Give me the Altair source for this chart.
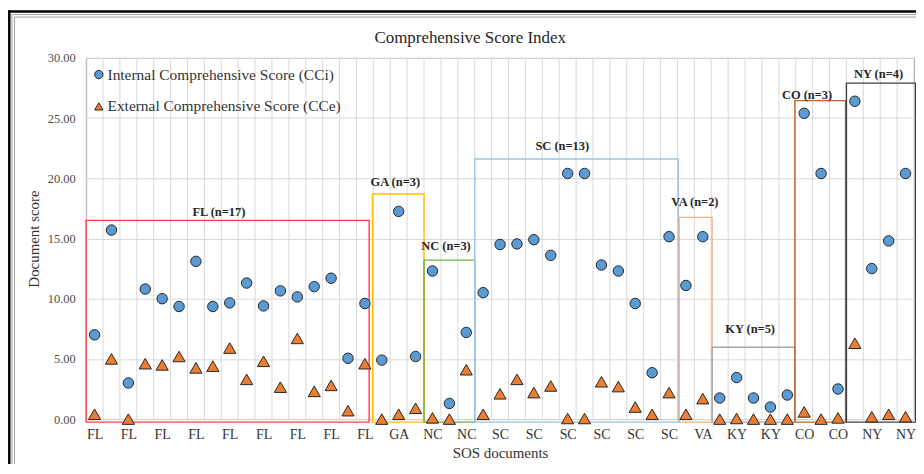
import altair as alt
import pandas as pd

# ---------------- data ----------------
states = (["FL"] * 17 + ["GA"] * 3 + ["NC"] * 3 + ["SC"] * 12 +
          ["VA"] * 2 + ["KY"] * 5 + ["CO"] * 3 + ["NY"] * 4)

cci = [7.0, 15.7, 3.0, 10.8, 10.0, 9.35, 13.1, 9.35, 9.65, 11.3, 9.4, 10.65, 10.15, 11.0, 11.7, 5.05, 9.6,
       4.9, 17.25, 5.2,
       12.3, 1.3, 7.2,
       10.5, 14.5, 14.55, 14.9, 13.6, 20.4, 20.4, 12.8, 12.3, 9.6, 3.85, 15.15,
       11.1, 15.15,
       1.75, 3.45, 1.75, 1.0, 2.0,
       25.4, 20.4, 2.5,
       26.4, 12.5, 14.8, 20.4]

cce = [0.4, 5.0, 0.0, 4.6, 4.5, 5.2, 4.25, 4.4, 5.9, 3.3, 4.8, 2.65, 6.7, 2.3, 2.8, 0.7, 4.6,
       0.0, 0.4, 0.9,
       0.1, 0.0, 4.1,
       0.4, 2.1, 3.3, 2.2, 2.75, 0.05, 0.05, 3.1, 2.7, 1.0, 0.4, 2.2,
       0.4, 1.7,
       0.0, 0.05, 0.0, 0.0, 0.0,
       0.6, 0.0, 0.1,
       6.3, 0.2, 0.4, 0.2]

series_names = ["Internal Comprehensive Score (CCi)", "External Comprehensive Score (CCe)"]

group_names = ["FL", "GA", "NC", "SC", "VA", "KY", "CO", "NY"]
group_labels = ["FL (n=17)", "GA (n=3)", "NC (n=3)", "SC (n=13)", "VA (n=2)", "KY (n=5)", "CO (n=3)", "NY (n=4)"]
box_left = [0.5, 17.45, 20.5, 23.5, 35.6, 37.55, 42.45, 45.5]
box_right = [17.25, 20.5, 23.5, 35.55, 37.55, 42.45, 45.45, 49.6]
box_top = [16.5, 18.7, 13.2, 21.6, 16.75, 5.97, 26.45, 27.9]
label_x = [8.36, 18.8, 21.8, 28.68, 36.53, 39.8, 43.17, 47.4]
label_y = [17.2, 19.7, 14.4, 22.7, 18.0, 7.45, 26.9, 28.65]

# ---------------- styles ----------------
series_colors = ["#5B9BD5", "#ED7D31"]
series_shapes = ["circle", "triangle-up"]
box_colors = ["#FF4040", "#FFC000", "#70AD47", "#9DC3E6", "#F4B183", "#A6A6A6", "#C0642A", "#404040"]
FONT = "Liberation Serif"
GRID = "#D9D9D9"

n = len(states)
idx = list(range(1, n + 1))

pts = pd.DataFrame({
    "idx": idx * 2,
    "series": [series_names[0]] * n + [series_names[1]] * n,
    "value": cci + cce,
})
boxes = pd.DataFrame({"group": group_names, "left": box_left, "right": box_right,
                      "top": box_top, "bottom": [-0.25] * len(group_names)})
labels = pd.DataFrame({"label": group_labels, "lx": label_x, "ly": label_y})
vgrid = pd.DataFrame({"b": [i + 0.5 for i in range(0, n + 1)]})

label_js = "[" + ",".join("'%s'" % s for s in states) + "][datum.value - 1]"

xscale = alt.Scale(domain=[0.5, n + 0.5], nice=False, zero=False)
yscale = alt.Scale(domain=[0, 30], nice=False, zero=False)

x_axis = alt.Axis(values=list(range(1, n + 1, 2)), labelExpr=label_js, grid=False, ticks=False,
                  domain=False, title="SOS documents", labelFont=FONT, labelFontSize=14,
                  labelColor="#333333", labelPadding=9, titleFont=FONT, titleFontSize=15,
                  titleFontWeight="normal", titleColor="#333333", titlePadding=4, labelAngle=0)
y_axis = alt.Axis(values=[0, 5, 10, 15, 20, 25, 30], format=".2f", grid=True, gridColor=GRID,
                  ticks=False, domain=False, title="Document score", labelFont=FONT,
                  labelFontSize=12.5, labelColor="#4D4D4D", labelPadding=11, titleFont=FONT,
                  titleFontSize=15, titleFontWeight="normal", titleColor="#333333", titlePadding=6)

grid_layer = alt.Chart(vgrid).mark_rule(color=GRID, strokeWidth=1).encode(
    x=alt.X("b:Q", scale=xscale, axis=x_axis)
)

box_layer = alt.Chart(boxes).mark_rect(fillOpacity=0, strokeWidth=1.4).encode(
    x=alt.X("left:Q", scale=xscale, axis=x_axis),
    x2="right:Q",
    y=alt.Y("top:Q", scale=yscale, axis=y_axis),
    y2="bottom:Q",
    stroke=alt.Stroke("group:N", scale=alt.Scale(domain=group_names, range=box_colors), legend=None),
)

fill_enc = alt.Fill("series:N", scale=alt.Scale(domain=series_names, range=series_colors),
                    legend=alt.Legend(title=None, orient="none", legendX=5, legendY=9, labelFont=FONT,
                                      labelFontSize=15.5, labelColor="#333333", symbolSize=70,
                                      symbolStrokeColor="#262626", symbolStrokeWidth=1,
                                      rowPadding=15, labelOffset=1, labelLimit=0))
shape_enc = alt.Shape("series:N", scale=alt.Scale(domain=series_names, range=series_shapes))

circle_layer = alt.Chart(pts).transform_filter(
    alt.datum.series == series_names[0]
).mark_point(filled=True, opacity=1, stroke="#262626", strokeWidth=1, size=110).encode(
    x=alt.X("idx:Q", scale=xscale, axis=x_axis),
    y=alt.Y("value:Q", scale=yscale, axis=y_axis),
    fill=fill_enc, shape=shape_enc,
)
tri_layer = alt.Chart(pts).transform_filter(
    alt.datum.series == series_names[1]
).mark_point(filled=True, opacity=1, stroke="#262626", strokeWidth=1, size=150).encode(
    x=alt.X("idx:Q", scale=xscale, axis=x_axis),
    y=alt.Y("value:Q", scale=yscale, axis=y_axis),
    fill=fill_enc, shape=shape_enc,
)

text_layer = alt.Chart(labels).mark_text(font=FONT, fontSize=12.5, fontWeight="bold",
                                         color="#262626", baseline="middle").encode(
    x=alt.X("lx:Q", scale=xscale, axis=x_axis),
    y=alt.Y("ly:Q", scale=yscale, axis=y_axis),
    text="label:N",
)

# decorative outer frame (screenshot border)
W = 832
one = pd.DataFrame({"k": [0]})
frame_top = alt.Chart(one).mark_rule(color="#000000", strokeWidth=2.5).encode(
    x=alt.value(-78.5), x2=alt.value(W + 4), y=alt.value(-46.5))
frame_left = alt.Chart(one).mark_rule(color="#000000", strokeWidth=2.5).encode(
    x=alt.value(-77.2), y=alt.value(-47.5), y2=alt.value(410))
gray_top1 = alt.Chart(one).mark_rule(color="#9E9E9E", strokeWidth=1).encode(
    x=alt.value(-74.5), x2=alt.value(W + 4), y=alt.value(-43.5))
gray_top2 = alt.Chart(one).mark_rule(color="#9E9E9E", strokeWidth=1).encode(
    x=alt.value(-72), x2=alt.value(W + 4), y=alt.value(-41))
gray_left1 = alt.Chart(one).mark_rule(color="#9E9E9E", strokeWidth=1).encode(
    x=alt.value(-74.5), y=alt.value(-43.5), y2=alt.value(410))
gray_left2 = alt.Chart(one).mark_rule(color="#9E9E9E", strokeWidth=1).encode(
    x=alt.value(-72), y=alt.value(-41), y2=alt.value(410))

chart = alt.layer(
    grid_layer, box_layer, circle_layer, tri_layer, text_layer,
    frame_top, frame_left, gray_top1, gray_top2, gray_left1, gray_left2,
).properties(
    width=W, height=363,
    title=alt.TitleParams("Comprehensive Score Index", font=FONT, fontSize=17, fontWeight="normal",
                          color="#262626", dx=-30, dy=37.5, offset=0, frame="group"),
    autosize=alt.AutoSizeParams(type="none"),
    padding={"left": 78.5, "top": 49, "right": 2, "bottom": 44},
).configure(
    background="white", font=FONT
).configure_view(
    stroke="#8C8C8C", strokeWidth=1
).configure_legend(
    labelFont=FONT
).configure_axis(
    labelFont=FONT, titleFont=FONT
)

chart.save("out.html", embed_options={"renderer": "svg", "actions": False})
